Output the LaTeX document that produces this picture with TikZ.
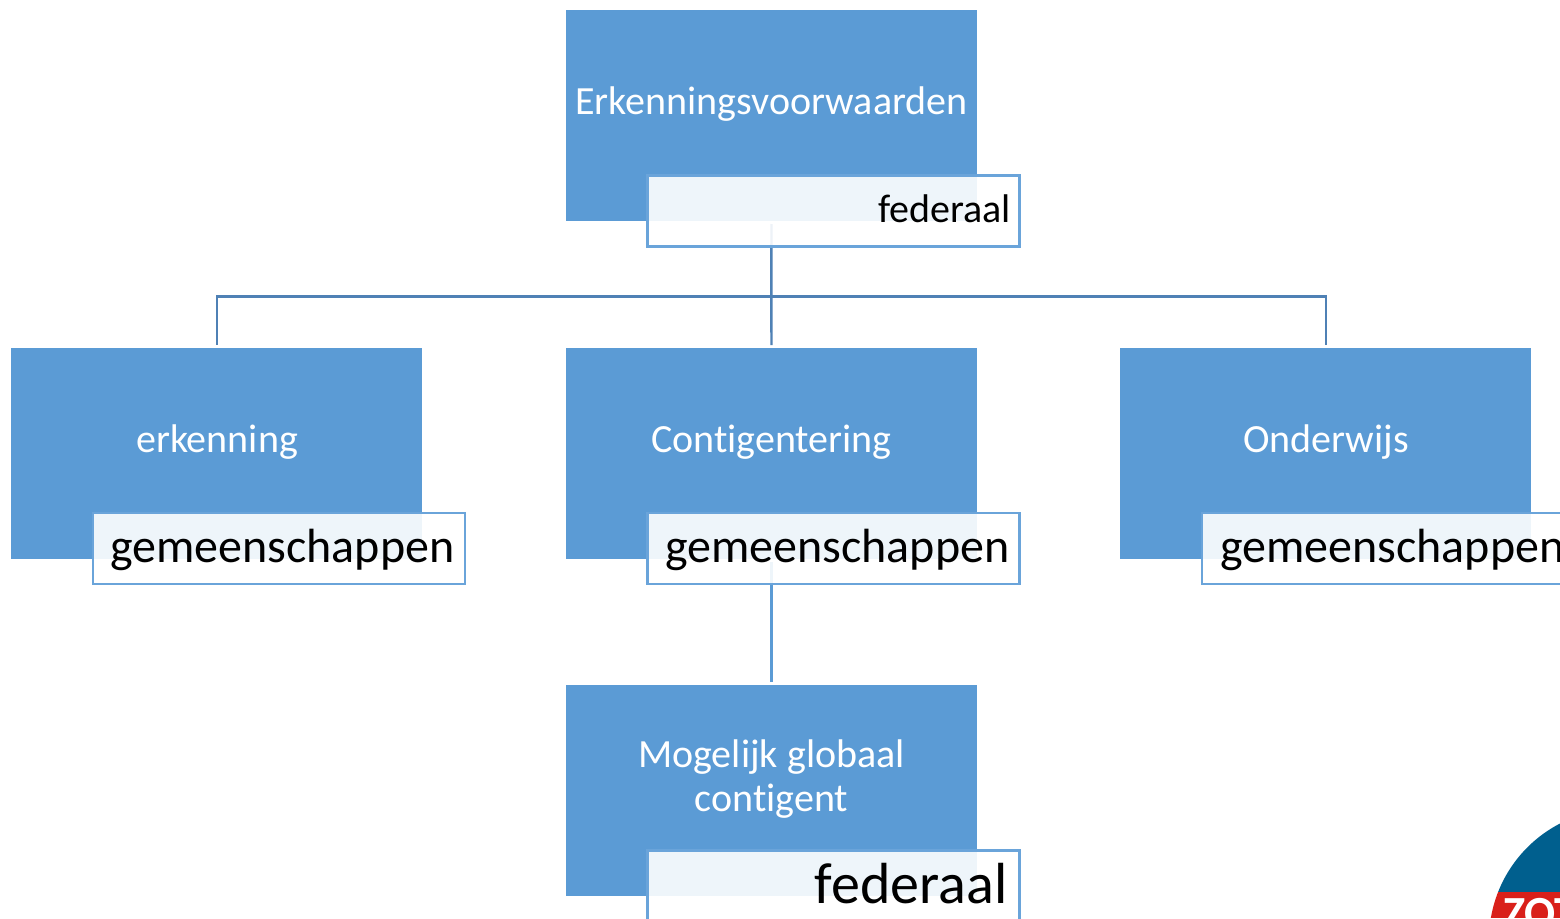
\documentclass[tikz,border=0pt]{standalone}
\usepackage{fontspec}
\setmainfont[Ligatures=NoCommon]{Carlito}
\definecolor{boxblue}{HTML}{5B9BD5}
\definecolor{tagline}{HTML}{6AA4DA}
\definecolor{linedark}{HTML}{4F81B5}
\definecolor{logoblue}{HTML}{005F8E}
\definecolor{logored}{HTML}{D9201A}
\begin{document}
\begin{tikzpicture}[x=1pt,y=-1pt,
  mainbox/.style={fill=boxblue,draw=none,minimum width=411pt,minimum height=211pt,inner sep=0pt,outer sep=0pt},
  tagbox/.style={fill=white,fill opacity=.9,draw=tagline,draw opacity=1,line width=2.2pt,minimum width=372pt,minimum height=71pt,inner sep=0pt,outer sep=0pt},
  maintext/.style={text=white,font=\fontsize{40}{44}\selectfont,anchor=base,align=center,inner sep=0pt},
  tagtext/.style={text=black,anchor=base east,inner sep=0pt},
  conn/.style={draw=linedark,line width=2.4pt},
  connlight/.style={draw=boxblue,line width=2.4pt}]
\useasboundingbox (0,0) rectangle (1560,918);
\fill[white] (0,0) rectangle (1560,918);
% boxes
\node[mainbox] (top) at (771.5,115.5) {};
\node[mainbox] (erk) at (216.7,453.5) {};
\node[mainbox] (con) at (771.5,453.5) {};
\node[mainbox] (ond) at (1325.7,453.5) {};
\node[mainbox] (glo) at (771.5,790.5) {};
% connectors
\coordinate (bus) at (771.3,296.5);
\draw[conn,shorten <=3pt] (top.south) -- (bus);
\draw[conn,shorten >=3pt] (bus) -- (con.north);
\draw[conn,shorten >=3pt] (bus) -| (erk.north);
\draw[conn,shorten >=3pt] (bus) -| (ond.north);
\draw[connlight,shorten <=3pt,shorten >=3pt] (con.south) -- (glo.north);
% tags
\node[tagbox] (tagtop) at (833.5,211) {};
\node[tagbox] (tagerk) at (279,548.5) {};
\node[tagbox] (tagcon) at (833.5,548.5) {};
\node[tagbox] (tagond) at (1388,548.5) {};
\node[tagbox] (tagglo) at (833.5,886) {};
% texts
\node[maintext] (ttop) at (771.5,114) {Erkenningsvoorwaarden};
\node[maintext] (terk) at (217,452) {erkenning};
\node[maintext] (tcon) at (771.5,452) {Contigentering};
\node[maintext] (tond) at (1326.2,452) {Onderwijs};
\node[maintext,text width=400pt] (tglo) at (771.5,767) {Mogelijk\kern-4pt{} globaal\\contigent};
\node[tagtext,font=\fontsize{40}{44}\selectfont] (ltop) at (1011,222.5) {federaal};
\node[tagtext,font=\fontsize{48}{54}\selectfont] (lerk) at (454.5,562.5) {gemeenschappen};
\node[tagtext,font=\fontsize{48}{54}\selectfont] (lcon) at (1009.5,562.5) {gemeenschappen};
\node[tagtext,font=\fontsize{48}{54}\selectfont] (lond) at (1564.5,562.5) {gemeenschappen};
\node[tagtext,font=\fontsize{58}{70}\selectfont] (lglo) at (1007.5,903) {federaal};
% logo
\begin{scope}
\clip (0,0) rectangle (1560,918);
\clip (1620,940) circle[radius=131];
\fill[logoblue] (1480,800) rectangle (1560,892);
\fill[logored] (1480,892) rectangle (1560,918);
\node[text=white,font=\fontsize{46}{50}\selectfont\bfseries,anchor=base west,inner sep=0pt] (logo) at (1503,928) {ZOT};
\end{scope}
\end{tikzpicture}
\end{document}
